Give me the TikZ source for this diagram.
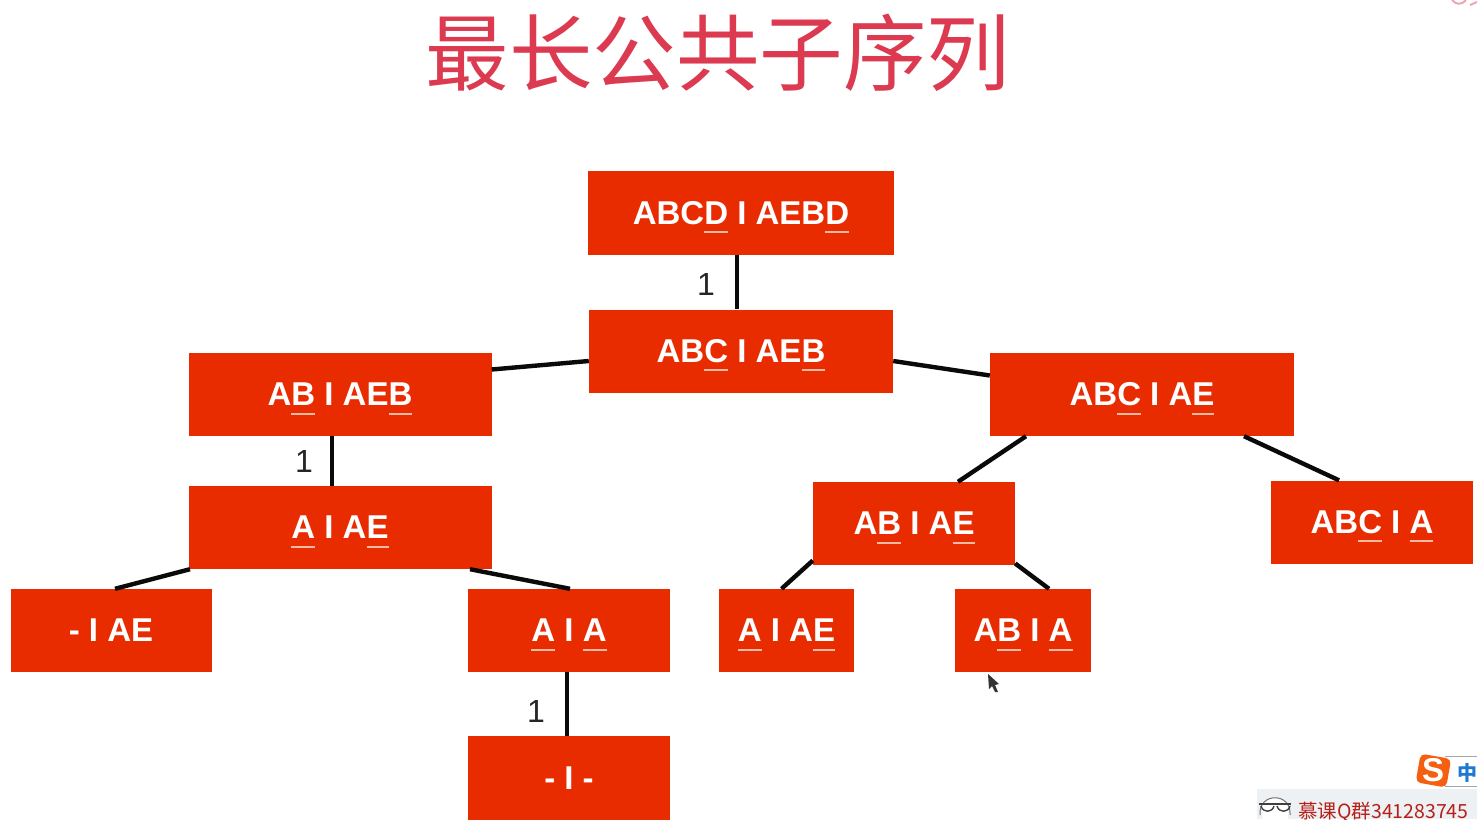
\documentclass[tikz,border=0pt]{standalone}
\usepackage{fontspec}
\setmainfont{Liberation Sans}
\newfontfamily\cjkfont{Noto Sans CJK SC}
\definecolor{boxred}{HTML}{E92B00}
\definecolor{titlered}{HTML}{DC3A50}
\definecolor{ulcolor}{HTML}{F8B9A4}
\definecolor{edgeblack}{HTML}{0A0A0A}
\definecolor{bandgrey}{HTML}{EEF1F4}
\definecolor{wmred}{HTML}{B5201A}
\definecolor{logoorange}{HTML}{F4600F}
\definecolor{zhblue}{HTML}{1F78D0}
\newcommand{\ulchar}[1]{\setbox0=\hbox{#1}\rlap{\smash{\textcolor{ulcolor}{\rule[-9pt]{\wd0}{2pt}}}}#1}
\tikzset{
  redbox/.style={fill=boxred,draw=none,text=white,inner sep=0pt,anchor=center,font=\fontsize{33}{36}\selectfont\bfseries},
  edge/.style={draw=edgeblack,line width=4.4pt},
  costlabel/.style={font=\fontsize{32}{36}\selectfont,text=black!85,inner sep=0pt}
}
\begin{document}
\begin{tikzpicture}[x=1pt,y=-1pt]
\useasboundingbox (0,0) rectangle (1477,819);
\fill[white] (0,0) rectangle (1477,819);
\node[font=\cjkfont\fontsize{83.5}{90}\selectfont,text=titlered,inner sep=0pt] (title) at (718,53) {最长公共子序列};
% boxes
\node[redbox,minimum width=306pt,minimum height=84pt] (n1) at (741,213) {ABC\ulchar{D} I AEB\ulchar{D}};
\node[redbox,minimum width=304pt,minimum height=83pt] (n2) at (741,351) {AB\ulchar{C} I AE\ulchar{B}};
\node[redbox,minimum width=303pt,minimum height=83pt] (n3) at (340,394.5) {A\ulchar{B} I AE\ulchar{B}};
\node[redbox,minimum width=304pt,minimum height=83pt] (n4) at (1142,394.5) {AB\ulchar{C} I A\ulchar{E}};
\node[redbox,minimum width=303pt,minimum height=83pt] (n5) at (340,527.5) {\ulchar{A} I A\ulchar{E}};
\node[redbox,minimum width=202pt,minimum height=83pt] (n6) at (914,523.5) {A\ulchar{B} I A\ulchar{E}};
\node[redbox,minimum width=202pt,minimum height=83pt] (n7) at (1372,522) {AB\ulchar{C} I \ulchar{A}};
\node[redbox,minimum width=201pt,minimum height=83pt] (n8) at (111,630.5) {- I AE};
\node[redbox,minimum width=202pt,minimum height=83pt] (n9) at (569,630.5) {\ulchar{A} I \ulchar{A}};
\node[redbox,minimum width=135pt,minimum height=83pt] (n10) at (786.5,630.5) {\ulchar{A} I A\ulchar{E}};
\node[redbox,minimum width=136pt,minimum height=83pt] (n11) at (1023,630.5) {A\ulchar{B} I \ulchar{A}};
\node[redbox,minimum width=202pt,minimum height=84pt] (n12) at (569,778) {- I -};
% anchor points on the box borders
\path (n1.south) ++(-4,0) coordinate (a1);
\path (n2.north) ++(-4,0) coordinate (a2);
\draw[edge] (a1) -- (a2);
\path (n2.west) ++(0,10) coordinate (b1);
\path (n3.east) ++(0,-25) coordinate (b2);
\draw[edge] (b1) -- (b2);
\path (n2.east) ++(0,10) coordinate (c1);
\path (n4.west) ++(0,-19) coordinate (c2);
\draw[edge] (c1) -- (c2);
\path (n3.south) ++(-8,0) coordinate (d1);
\path (n5.north) ++(-8,0) coordinate (d2);
\draw[edge] (d1) -- (d2);
\path (n4.south) ++(-116,0) coordinate (e1);
\path (n6.north) ++(44,0) coordinate (e2);
\draw[edge] (e1) -- (e2);
\path (n4.south) ++(102,0) coordinate (f1);
\path (n7.north) ++(-33,0) coordinate (f2);
\draw[edge] (f1) -- (f2);
\path (n5.south) ++(-150,0) coordinate (g1);
\path (n8.north) ++(4,0) coordinate (g2);
\draw[edge] (g1) -- (g2);
\path (n5.south) ++(130,0) coordinate (h1);
\path (n9.north) ++(1,0) coordinate (h2);
\draw[edge] (h1) -- (h2);
\path (n6.west) ++(0,37) coordinate (i1);
\path (n10.north) ++(-5,0) coordinate (i2);
\draw[edge] (i1) -- (i2);
\path (n6.east) ++(0,40) coordinate (j1);
\path (n11.north) ++(26,0) coordinate (j2);
\draw[edge] (j1) -- (j2);
\path (n9.south) ++(-2,0) coordinate (k1);
\path (n12.north) ++(-2,0) coordinate (k2);
\draw[edge] (k1) -- (k2);
% cost labels
\node[costlabel] (l1) at (706,284) {1};
\node[costlabel] (l2) at (304,461) {1};
\node[costlabel] (l3) at (536,711) {1};
% mouse pointer
\fill[black!80] (988,674) -- (999,684) -- (995,685) -- (998,692) -- (995,692) -- (992,686) -- (989,689) -- cycle;
% corner fragment top right
\draw[titlered!45,line width=2pt] (1452,0) .. controls (1456,5) and (1462,5) .. (1466,0);
\draw[titlered!45,line width=2pt] (1470,5) -- (1477,2);
% overlay bottom right
\fill[bandgrey] (1257,789) rectangle (1477,819);
\draw[black!35,line width=.7pt] (1445,756.5) -- (1477,756.5) (1445,786) -- (1477,786);
\fill[logoorange,rounded corners=5pt,rotate around={-10:(1433,770)}] (1418,756) rectangle (1449,785);
\node[font=\bfseries\fontsize{33}{36}\selectfont,text=white,inner sep=0pt] (sg) at (1433,770) {S};
\node[font=\cjkfont\bfseries\fontsize{20}{22}\selectfont,text=zhblue,inner sep=0pt] (zh) at (1467,773) {中};
\node[font=\cjkfont\fontsize{19.5}{22}\selectfont,text=wmred,inner sep=0pt,anchor=west] (wm) at (1298,812) {慕课Q群341283745};
\fill[white] (1262,819) -- (1262,806) .. controls (1264,795) and (1286,795) .. (1288,806) -- (1288,819) -- cycle;
\draw[black!55,line width=1pt] (1260,815) .. controls (1258,792) and (1292,792) .. (1290,815);
\draw[black!75,line width=1.6pt] (1259,804) -- (1291,804);
\draw[black!75,line width=1.4pt] (1261,806) .. controls (1263,813) and (1272,813) .. (1274,806);
\draw[black!75,line width=1.4pt] (1277,806) .. controls (1279,813) and (1288,813) .. (1290,806);
\end{tikzpicture}
\end{document}
